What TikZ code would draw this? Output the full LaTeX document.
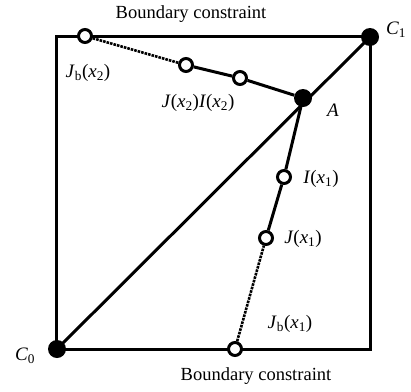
\documentclass[tikz,border=0pt]{standalone}
\usepackage{fontspec}
\setmainfont{Liberation Serif}
\usepackage{tikz}

\newcommand{\vx}[1]{(\textit{x}\textsubscript{#1})}

\begin{document}
\begin{tikzpicture}[x=1pt,y=-1pt,
  hollow/.style={circle,draw,line width=3pt,fill=white,inner sep=0pt,minimum size=13pt},
  blob/.style={circle,fill,inner sep=0pt,minimum size=18pt},
  lbl/.style={font=\fontsize{19}{22}\selectfont,inner sep=0pt},
  seg/.style={line width=3pt},
  dotseg/.style={line width=2.6pt,densely dotted}]
\useasboundingbox (0,0) rectangle (411,391);

% box
\draw[line width=3pt] (56,36) rectangle (370,349);

\draw[seg] (57,349) -- (370,37);

\node[blob] (c1) at (370,37) {};
\node[blob] (c0) at (57,349) {};
\node[blob] (a) at (303,98) {};

\node[hollow] (jb2) at (85,36) {};
\node[hollow] (j2) at (186,65) {};
\node[hollow] (i2) at (240,78) {};

\node[hollow] (i1) at (284,177) {};
\node[hollow] (j1) at (266,238) {};
\node[hollow] (jb1) at (235,349) {};

\draw[dotseg] (jb2) -- (j2);
\draw[seg] (j2) -- (i2);
\draw[seg] (i2) -- (a);
\draw[dotseg] (jb1) -- (j1);
\draw[seg] (j1) -- (i1);
\draw[seg] (i1) -- (a);

% labels
\node[lbl,font=\fontsize{18.5}{22}\selectfont] (top) at (191,14) {Boundary constraint};
\node[lbl,font=\fontsize{18.5}{22}\selectfont] (bot) at (256,376) {Boundary constraint};
\node[lbl] (lc1) at (396,30) {\textit{C}\textsubscript{1}};
\node[lbl] (lc0) at (25,356) {\textit{C}\textsubscript{0}};
\node[lbl] (la) at (333,110) {\textit{A}};
\node[lbl] (ljb2) at (88,73) {\textit{J}\textsubscript{b}\vx{2}};
\node[lbl] (lji2) at (198,103) {\textit{J}\vx{2}\textit{I}\vx{2}};
\node[lbl] (li1) at (321,179) {\textit{I}\vx{1}};
\node[lbl] (lj1) at (303,239) {\textit{J}\vx{1}};
\node[lbl] (ljb1) at (290,324) {\textit{J}\textsubscript{b}\vx{1}};
\end{tikzpicture}
\end{document}
